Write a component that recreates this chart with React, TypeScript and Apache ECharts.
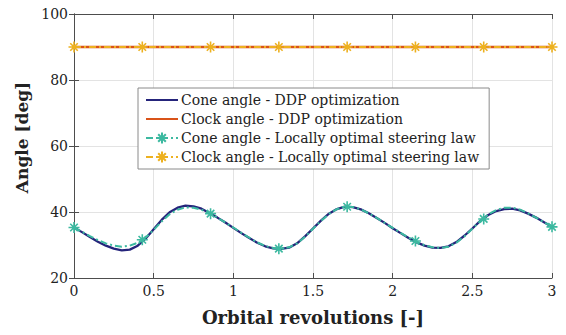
import React, { useEffect, useRef } from "react";
import * as echarts from "echarts";

const ddpX = [0,0.05,0.1,0.15,0.2,0.25,0.3,0.35,0.4,0.45,0.5,0.55,0.6,0.65,0.7,0.75,0.8,0.85,0.9,0.95,1,1.05,1.1,1.15,1.2,1.25,1.3,1.35,1.4,1.45,1.5,1.55,1.6,1.65,1.7,1.75,1.8,1.85,1.9,1.95,2,2.05,2.1,2.15,2.2,2.25,2.3,2.35,2.4,2.45,2.5,2.55,2.6,2.65,2.7,2.75,2.8,2.85,2.9,2.95,3];
const ddpCone = [35.3,33.9,32.4,31.0,29.8,28.9,28.4,28.6,29.8,32.0,34.8,37.6,39.9,41.3,41.9,41.7,41.0,39.7,38.3,36.8,35.2,33.6,32.1,30.7,29.6,29.0,28.8,29.2,30.5,32.6,35.0,37.4,39.5,40.9,41.6,41.5,40.8,39.6,38.2,36.7,35.1,33.6,32.1,30.8,29.8,29.2,29.1,29.6,30.9,32.8,35.0,37.3,39.1,40.3,40.9,41.0,40.5,39.5,38.3,36.9,35.5];
const ddpClockX = [0, 3];
const ddpClock = [90, 90];
const losX = ddpX;
const losCone = [35.3,34.0,32.7,31.5,30.5,29.8,29.5,29.8,30.7,32.3,34.6,37.1,39.3,40.7,41.4,41.3,40.7,39.6,38.3,36.8,35.3,33.7,32.2,30.8,29.7,29.1,28.9,29.3,30.5,32.5,34.9,37.3,39.4,40.9,41.6,41.5,40.8,39.6,38.2,36.7,35.2,33.7,32.2,30.9,29.9,29.3,29.1,29.5,30.7,32.6,34.9,37.3,39.3,40.6,41.3,41.3,40.7,39.6,38.3,36.9,35.5];
const markerX = [0, 0.4286, 0.8571, 1.2857, 1.7143, 2.1429, 2.5714, 3];
const markerCone = [35.3, 31.6, 39.5, 28.9, 41.6, 31.2, 37.9, 35.5];
const markerClock = [90, 90, 90, 90, 90, 90, 90, 90];

const seriesNames = [
  "Cone angle - DDP optimization",
  "Clock angle - DDP optimization",
  "Cone angle - Locally optimal steering law",
  "Clock angle - Locally optimal steering law",
];

const FONT = "DejaVu Serif";
const STAR = "path://M5,0 L5,10 M0,5 L10,5 M1.6,1.6 L8.4,8.4 M1.6,8.4 L8.4,1.6";

function mergeWithMarkers(xs: number[], ys: number[], mx: number[], my: number[]) {
  const pts: any[] = [];
  xs.forEach((x, i) => {
    if (!mx.some((m) => Math.abs(m - x) < 0.02)) pts.push({ value: [x, ys[i]], symbol: "none" });
  });
  mx.forEach((x, i) => pts.push({ value: [x, my[i]] }));
  pts.sort((a, b) => a.value[0] - b.value[0]);
  return pts;
}

export default function App() {
  const ref = useRef<HTMLDivElement>(null);
  useEffect(() => {
    if (!ref.current) return;
    const chart = echarts.init(ref.current, null, { renderer: "svg" });
    const axisColor = "#4d4d4d";
    const labelColor = "#222222";
    const xBase = {
      type: "value", min: 0, max: 3, interval: 0.5,
      axisLine: { show: true, lineStyle: { color: axisColor, width: 1 } },
      axisTick: { show: true, inside: true, length: 5, lineStyle: { color: axisColor } },
    };
    const yBase = {
      type: "value", min: 20, max: 100, interval: 20,
      axisLine: { show: true, lineStyle: { color: axisColor, width: 1 } },
      axisTick: { show: true, inside: true, length: 5, lineStyle: { color: axisColor } },
    };
    chart.setOption({
      animation: false,
      backgroundColor: "#ffffff",
      textStyle: { fontFamily: FONT },
      grid: { left: 74, right: 14, top: 14, bottom: 57, containLabel: false },
      xAxis: [
        {
          ...xBase, position: "bottom",
          name: "Orbital revolutions [-]", nameLocation: "middle", nameGap: 30,
          nameTextStyle: { fontFamily: FONT, fontSize: 18, fontWeight: "bold", color: labelColor },
          axisLabel: { fontFamily: FONT, fontSize: 14, color: labelColor, margin: 6, formatter: (v: number) => String(v) },
          splitLine: { show: true, lineStyle: { color: "#e3e3e3", width: 1 } },
        },
        { ...xBase, position: "top", axisLabel: { show: false }, splitLine: { show: false } },
      ],
      yAxis: [
        {
          ...yBase, position: "left",
          name: "Angle [deg]", nameLocation: "middle", nameGap: 42,
          nameTextStyle: { fontFamily: FONT, fontSize: 17, fontWeight: "bold", color: labelColor, padding: [0, 0, 0, 17] },
          axisLabel: { fontFamily: FONT, fontSize: 14, color: labelColor, margin: 6 },
          splitLine: { show: true, lineStyle: { color: "#e3e3e3", width: 1 } },
        },
        { ...yBase, position: "right", axisLabel: { show: false }, splitLine: { show: false } },
      ],
      legend: {
        orient: "vertical", left: 138, top: 88,
        backgroundColor: "#ffffff", borderColor: "#8a8a8a", borderWidth: 1,
        padding: [5, 10, 5, 7], itemWidth: 32, itemHeight: 14, itemGap: 5,
        textStyle: { fontFamily: FONT, fontSize: 14, color: labelColor, padding: [0, 0, 0, -2] },
        data: seriesNames,
      },
      series: [
        {
          name: seriesNames[0], type: "line",
          data: ddpX.map((x, i) => [x, ddpCone[i]]),
          showSymbol: false, symbol: "none",
          lineStyle: { color: "#25247b", width: 2.3 },
          itemStyle: { color: "rgba(0,0,0,0)", borderWidth: 0 }, z: 2,
        },
        {
          name: seriesNames[1], type: "line",
          data: ddpClockX.map((x, i) => [x, ddpClock[i]]),
          showSymbol: false, symbol: "none",
          lineStyle: { color: "#d95319", width: 2.5 },
          itemStyle: { color: "rgba(0,0,0,0)", borderWidth: 0 }, z: 2,
        },
        {
          name: seriesNames[2], type: "line",
          data: mergeWithMarkers(losX, losCone, markerX, markerCone),
          showSymbol: true, showAllSymbol: true, symbol: STAR, symbolSize: 11,
          lineStyle: { color: "#3cb9a0", width: 2, type: [7, 3, 2, 3] },
          itemStyle: { color: "rgba(0,0,0,0)", borderColor: "#3cb9a0", borderWidth: 1.6 }, z: 3,
        },
        {
          name: seriesNames[3], type: "line",
          data: mergeWithMarkers([], [], markerX, markerClock),
          showSymbol: true, showAllSymbol: true, symbol: STAR, symbolSize: 11,
          lineStyle: { color: "#edb120", width: 2.2, type: [7, 3, 2, 3] },
          itemStyle: { color: "rgba(0,0,0,0)", borderColor: "#edb120", borderWidth: 1.6 }, z: 3,
        },
      ],
    });
    return () => chart.dispose();
  }, []);
  return (
    <div ref={ref} style={{ position: "fixed", left: 0, top: 0, width: 566, height: 335, background: "#fff" }} />
  );
}
